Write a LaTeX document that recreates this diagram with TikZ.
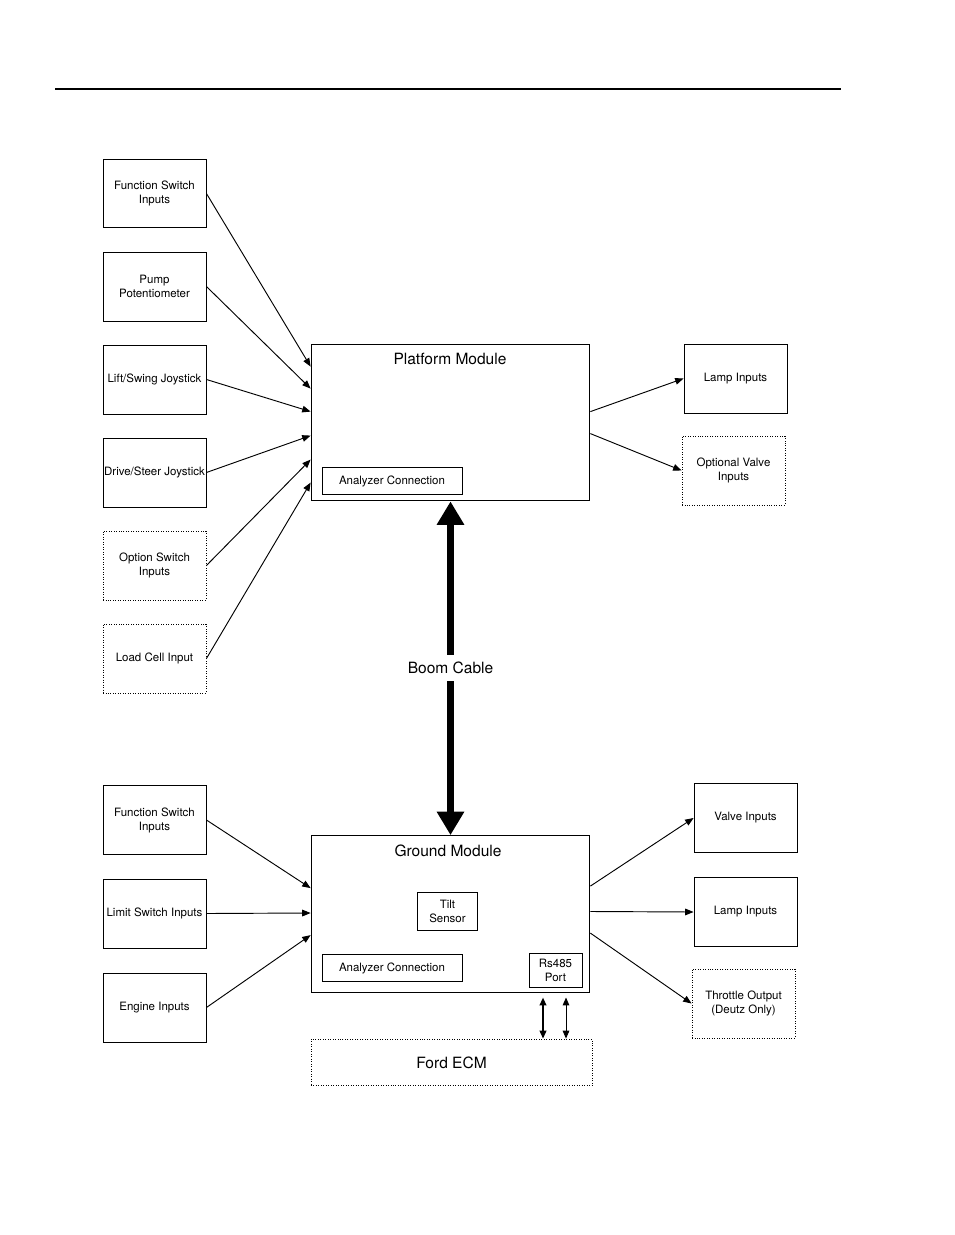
\documentclass[tikz,border=0pt]{standalone}
\usepackage{fontspec}
\setmainfont{TeX Gyre Heros}
\usetikzlibrary{arrows.meta,calc}

\tikzset{
	box/.style={draw, line width=0.6pt, minimum width=23.3mm, minimum height=15.6mm,
		inner sep=0pt, align=center, font=\fontsize{7.4}{9}\selectfont},
	optbox/.style={box, densely dotted},
	subbox/.style={draw, line width=0.6pt, inner sep=0pt, align=center,
		font=\fontsize{7.4}{9}\selectfont},
	modbox/.style={draw, line width=0.6pt, minimum width=63.1mm, minimum height=35.5mm},
	title/.style={font=\fontsize{10}{12}\selectfont},
	sig/.style={line width=0.6pt, -{Triangle[length=1.9mm,width=1.5mm]}},
	boom/.style={line width=3.9pt, -{Triangle[length=5.3mm,width=5.9mm]}},
	bus/.style={{Triangle[length=1.8mm,width=1.5mm]}-{Triangle[length=1.8mm,width=1.5mm]}},
}

\begin{document}
\begin{tikzpicture}[x=0.2263mm, y=-0.2263mm]
				\useasboundingbox (0,0) rectangle (954,1235);
				\draw[line width=0.7pt] (55,89) -- (841,89);
				
				% platform side
				\node[box] (fsw) at (154.5,193.5) {Function Switch\\Inputs};
				\node[box] (pump) at (154.5,286.5) {Pump\\Potentiometer};
				\node[box] (lift) at (154.5,379.5) {Lift/Swing Joystick};
				\node[box] (drive) at (154.5,472.5) {Drive/Steer Joystick};
				\node[optbox] (optsw) at (154.5,565.5) {Option Switch\\Inputs};
				\node[optbox] (load) at (154.5,658.5) {Load Cell Input};
				
				\node[modbox] (plat) at (450.5,422.5) {};
				\node[title] (plattitle) at (450,359) {Platform Module};
				\node[subbox, minimum width=31.7mm, minimum height=6.3mm] (ana) at (392,481) {Analyzer Connection};
				
				\node[box] (lamp) at (735.5,378.5) {Lamp Inputs};
				\node[optbox] (optv) at (733.5,470.5) {Optional Valve\\Inputs};
				
				\draw[sig] (fsw.east) -- ($(plat.north west)+(0,23)$);
				\draw[sig] (pump.east) -- ($(plat.north west)+(0,45)$);
				\draw[sig] (lift.east) -- ($(plat.north west)+(0,68)$);
				\draw[sig] (drive.east) -- ($(plat.north west)+(0,92)$);
				\draw[sig] (optsw.east) -- ($(plat.north west)+(0,116)$);
				\draw[sig] (load.east) -- ($(plat.north west)+(0,139)$);
				
				\draw[sig] ($(plat.north east)+(0,68)$) -- (lamp.west);
				\draw[sig] ($(plat.north east)+(0,90)$) -- (optv.west);
				
				% boom cable
				\node[title, inner xsep=2pt, inner ysep=4.5pt] (cable) at (450.5,668) {Boom Cable};
				
				% ground side
				\node[box] (fsw2) at (154.5,820) {Function Switch\\Inputs};
				\node[box] (limit) at (154.5,913.5) {Limit Switch Inputs};
				\node[box] (engine) at (154.5,1007.5) {Engine Inputs};
				
				\node[modbox] (ground) at (450.5,914) {};
				\node[title] (groundtitle) at (448,851) {Ground Module};
				\node[subbox, minimum width=13.4mm, minimum height=8.6mm] (tilt) at (447.5,911) {Tilt\\Sensor};
				\node[subbox, minimum width=31.7mm, minimum height=6.3mm] (ana2) at (392,968) {Analyzer Connection};
				\node[subbox, minimum width=12mm, minimum height=7.7mm] (rs) at (555.5,970) {Rs485\\Port};
				
				\node[box] (valve) at (745.5,818) {Valve Inputs};
				\node[box] (lamp2) at (745.5,912) {Lamp Inputs};
				\node[optbox] (throttle) at (743.5,1003.5) {Throttle Output\\(Deutz Only)};
				
				\node[draw, densely dotted, line width=0.6pt, minimum width=63.6mm, minimum height=10.6mm,
					title] (ford) at (451.5,1062.5) {Ford ECM};
				
				\draw[boom] (cable) -- (plat.south);
				\draw[boom] (cable) -- (ground.north);
				
				\draw[sig] (fsw2.east) -- ($(ground.north west)+(0,53)$);
				\draw[sig] (limit.east) -- ($(ground.north west)+(0,77.9)$);
				\draw[sig] (engine.east) -- ($(ground.north west)+(0,100)$);
				
				\draw[sig] ($(ground.north east)+(0,51)$) -- (valve.west);
				\draw[sig] ($(ground.north east)+(0,76.4)$) -- (lamp2.west);
				\draw[sig] ($(ground.north east)+(0,98)$) -- (throttle.west);
				
				\draw[bus, line width=1.2pt] ($(rs.south)+(-12.5,10)$) -- ($(rs.south |- ford.north)+(-12.5,0)$);
				\draw[bus, line width=0.6pt] ($(rs.south)+(10.5,10)$) -- ($(rs.south |- ford.north)+(10.5,0)$);
\end{tikzpicture}
\end{document}
